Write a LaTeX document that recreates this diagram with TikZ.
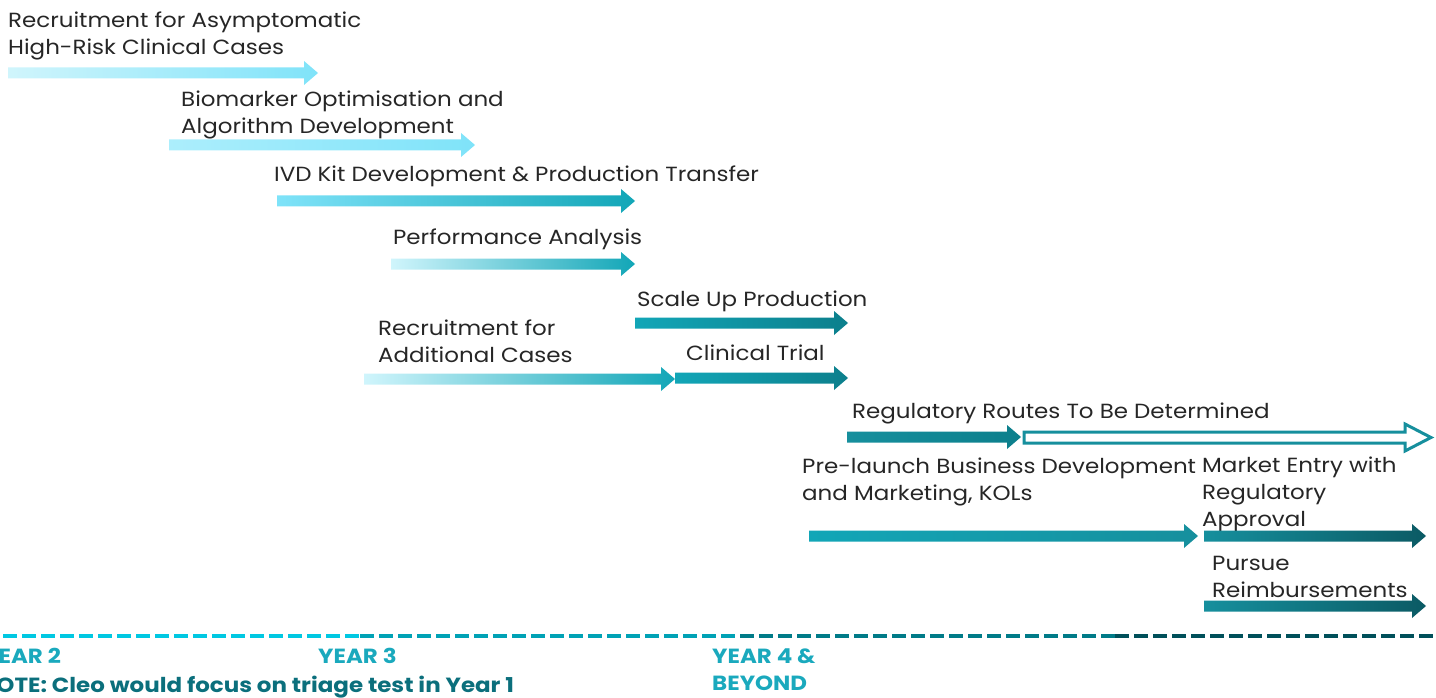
\documentclass[tikz,border=0pt]{standalone}
\usepackage{fontspec}
\setmainfont{Poppins}[FakeStretch=1.12]
\definecolor{txt}{HTML}{262626}
\definecolor{yr}{HTML}{1AA9BD}
\definecolor{note}{HTML}{0B6F7C}
\definecolor{lc1}{HTML}{D0F5FC}
\definecolor{lc2}{HTML}{ACEEFC}
\definecolor{cy}{HTML}{7FE3F9}
\definecolor{cyb}{HTML}{88E8FB}
\definecolor{tl}{HTML}{12A6B7}
\definecolor{tld}{HTML}{0C7F8C}
\definecolor{tlm}{HTML}{05A3B4}
\definecolor{tle}{HTML}{168F9D}
\definecolor{tlx}{HTML}{0B5A64}
\definecolor{ds1}{HTML}{00C8E2}
\definecolor{ds2}{HTML}{00A2B5}
\definecolor{ds3}{HTML}{007B88}
\definecolor{ds4}{HTML}{00505A}
\newcommand\garrow[4][]{%
  \path[#1] (#2,{#4-5.5}) -- ({#3-14},{#4-5.5}) -- ({#3-14},{#4-12}) -- (#3,#4)
    -- ({#3-14},{#4+12}) -- ({#3-14},{#4+5.5}) -- (#2,{#4+5.5}) -- cycle;}
\tikzset{
  lbl/.style={inner sep=0pt, anchor=base west, align=left, text=txt,
    font=\fontsize{20.5}{27}\selectfont},
  yrlbl/.style={inner sep=0pt, anchor=base west, align=left, text=yr,
    font=\fontsize{20.5}{27}\selectfont\bfseries},
  dashline/.style={line width=4pt, dash pattern=on 14pt off 5pt},
}
\begin{document}
\begin{tikzpicture}[x=1pt,y=-1pt]
\useasboundingbox (0,0) rectangle (1436,698);
\clip (0,0) rectangle (1436,698);
% labels (anchor = baseline of the last line)
\node[lbl] (t1) at (8,55) {Recruitment for Asymptomatic\\High-Risk Clinical Cases};
\node[lbl] (t2) at (181,134) {Biomarker Optimisation and\\Algorithm Development};
\node[lbl] (t3) at (274,182) {IVD Kit Development \& Production Transfer};
\node[lbl] (t4) at (393,244) {Performance Analysis};
\node[lbl] (t5) at (637,306) {Scale Up Production};
\node[lbl] (t6) at (378,362) {Recruitment for\\Additional Cases};
\node[lbl] (t7) at (686,360) {Clinical Trial};
\node[lbl] (t8) at (852,418) {Regulatory Routes To Be Determined};
\node[lbl] (t9) at (802,500) {Pre-launch Business Development\\and Marketing, KOLs};
\node[lbl] (t10) at (1202,526) {Market Entry with\\Regulatory\\Approval};
\node[lbl] (t11) at (1212,597) {Pursue\\Reimbursements};
% arrows
\garrow[left color=lc1, right color=cy]{8}{318}{73}
\garrow[left color=lc2, right color=cy]{169}{475}{145}
\garrow[left color=cy, middle color=cyb, right color=tl]{277}{635}{201}
\garrow[left color=lc1, right color=tl]{391}{635}{264}
\garrow[left color=tl, right color=tld]{635}{848}{323}
\garrow[left color=lc1, right color=tl]{364}{675}{379}
\garrow[left color=tl, right color=tld]{675}{848}{378}
\garrow[left color=tle, middle color=tlm, right color=tld]{847}{1021}{437}
\draw[tle, line width=3pt, fill=white, line join=miter]
  (1024,432) -- (1405,432) -- (1405,424) -- (1431,437.5) -- (1405,451) -- (1405,443) -- (1024,443) -- cycle;
\garrow[left color=tl, middle color=tlm, right color=tle]{809}{1198}{536}
\garrow[left color=tle, middle color=tlm, right color=tlx]{1204}{1426}{536}
\garrow[left color=tle, middle color=tlm, right color=tlx]{1204}{1426}{606}
% dashed timeline
\draw[dashline, ds1] (3,636) -- (360,636);
\draw[dashline, ds2] (360,636) -- (740,636);
\draw[dashline, ds3] (740,636) -- (1115,636);
\draw[dashline, ds4] (1115,636) -- (1436,636);
% year labels (cut at the left edge, as in the reference)
\node[yrlbl] (y2) at (-17,663) {YEAR 2};
\node[yrlbl] (y3) at (318,663) {YEAR 3};
\node[yrlbl] (y4) at (712,690) {YEAR 4 \&\\BEYOND};
\node[yrlbl, text=note] (nt) at (-21,692) {NOTE: Cleo would focus on triage test in Year 1};
\end{tikzpicture}
\end{document}
